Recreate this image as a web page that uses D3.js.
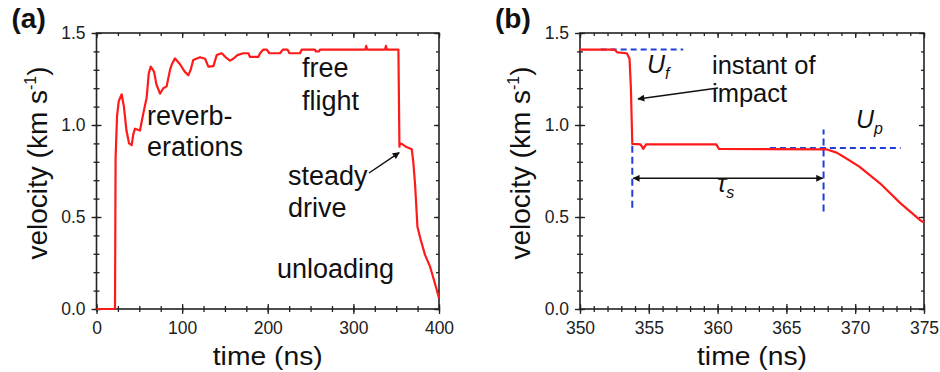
<!DOCTYPE html>
<html>
<head>
<meta charset="utf-8">
<script src="https://cdn.jsdelivr.net/npm/d3@7"></script>
<style>
  html, body { margin: 0; padding: 0; background: #fff; }
  svg { display: block; font-family: "Liberation Sans", Arial, sans-serif; }
</style>
</head>
<body>
<svg id="chart" width="940" height="372"></svg>
<script>
// ---------- data ----------
const timeA = [0, 21.6, 22.3, 24, 26, 29.4, 32, 35, 38, 41.1,
  43, 45, 50.8, 52, 55, 58.6, 61, 63.3, 67.2, 70,
  74.2, 78, 81.9, 85.9, 88, 91.7, 97.5, 103, 107.2, 110,
  113, 120.9, 126.8, 130.6, 136.5, 140.4, 146.2, 152.1, 155.9, 159.8,
  164.5, 171.5, 177.3, 179.3, 189, 191, 194.9, 198.8, 201.9, 214.4,
  217.5, 223, 225.3, 237.7, 239.7, 255, 256, 260, 261, 314,
  315, 316, 337, 338, 339, 352.6, 353.8, 354.5, 356.5, 360.4,
  362, 368.2, 370, 372.1, 374.8, 378.7, 383.8, 389.6, 393.5, 397.4, 400];
const velocityA = [0, 0, 0.82, 1.05, 1.13, 1.167, 1.1, 0.97, 0.9, 0.891,
  0.95, 0.98, 0.97, 1.0, 1.07, 1.15, 1.28, 1.317, 1.29, 1.22,
  1.17, 1.2, 1.21, 1.3, 1.33, 1.362, 1.33, 1.29, 1.27, 1.3,
  1.353, 1.368, 1.36, 1.317, 1.32, 1.38, 1.39, 1.363, 1.35, 1.36,
  1.38, 1.39, 1.39, 1.37, 1.37, 1.39, 1.41, 1.41, 1.39, 1.39,
  1.41, 1.41, 1.39, 1.39, 1.41, 1.41, 1.40, 1.40, 1.41, 1.41,
  1.43, 1.41, 1.41, 1.43, 1.41, 1.41, 0.882, 0.9, 0.897, 0.885,
  0.88, 0.868, 0.8, 0.674, 0.447, 0.375, 0.293, 0.23, 0.167, 0.103, 0.058];

const timeB = [350, 352.5, 352.7, 353.4, 353.6, 353.7, 353.8, 354.4, 354.6, 354.8,
  359.9, 360.1, 367.9, 368.65, 369.1, 370.3, 371.8, 373.3, 374.7, 375];
const velocityB = [1.41, 1.41, 1.395, 1.39, 1.36, 1.2, 0.897, 0.895, 0.87, 0.895,
  0.895, 0.87, 0.868, 0.85, 0.83, 0.774, 0.683, 0.574, 0.484, 0.47];

// guide lines in panel b (data coordinates)
const ufLine = { t: [351.5, 357.5], v: 1.41 };
const upLine = { t: [363.8, 373.3], v: 0.875 };
const impactLine = { t: 353.8, v: [0.55, 0.89] };
const endLine = { t: 367.7, v: [0.53, 0.975] };
const tauArrow = { t: [353.8, 367.7], v: 0.71 };

const xTicksA = [0, 100, 200, 300, 400];
const xMinorA = d3.range(0, 401, 25);
const xTicksB = [350, 355, 360, 365, 370, 375];
const xMinorB = d3.range(350, 375.5, 1);
const yTicks = [0, 0.5, 1.0, 1.5];
const yMinor = d3.range(0, 1.51, 0.1);

// ---------- layout ----------
const svg = d3.select("#chart");
svg.append("rect").attr("width", 940).attr("height", 372).attr("fill", "#fff");

const defs = svg.append("defs");
defs.append("marker").attr("id", "arrowEnd")
  .attr("viewBox", "0 0 10 10").attr("refX", 9).attr("refY", 5)
  .attr("markerWidth", 9).attr("markerHeight", 7).attr("orient", "auto-start-reverse")
  .attr("markerUnits", "userSpaceOnUse")
  .append("path").attr("d", "M0,0 L10,5 L0,10 Z").attr("fill", "#111");

const plotTop = 33, plotBottom = 309;
const y = d3.scaleLinear().domain([0, 1.5]).range([plotBottom, plotTop]);

function panel(x0, x1, xdom, xMajor, xMinor, letter) {
  const x = d3.scaleLinear().domain(xdom).range([x0, x1]);
  const g = svg.append("g");
  const fmtY = d3.format(".1f");
  // minor ticks (crossing)
  g.append("g").attr("transform", `translate(0,${plotBottom})`)
    .call(d3.axisBottom(x).tickValues(xMinor).tickSize(3).tickFormat(""));
  g.append("g").attr("transform", `translate(0,${plotBottom})`)
    .call(d3.axisBottom(x).tickValues(xMinor).tickSize(-3).tickFormat(""));
  g.append("g").attr("transform", `translate(0,${plotTop})`)
    .call(d3.axisTop(x).tickValues(xMinor).tickSize(-3).tickFormat(""));
  g.append("g").attr("transform", `translate(${x0},0)`)
    .call(d3.axisLeft(y).tickValues(yMinor).tickSize(3).tickFormat(""));
  g.append("g").attr("transform", `translate(${x0},0)`)
    .call(d3.axisLeft(y).tickValues(yMinor).tickSize(-3).tickFormat(""));
  g.append("g").attr("transform", `translate(${x1},0)`)
    .call(d3.axisRight(y).tickValues(yMinor).tickSize(-3).tickFormat(""));
  // major ticks with labels
  g.append("g").attr("class", "xa").attr("transform", `translate(0,${plotBottom})`)
    .call(d3.axisBottom(x).tickValues(xMajor).tickSize(5).tickPadding(8).tickFormat(d3.format("d")));
  g.append("g").attr("transform", `translate(0,${plotBottom})`)
    .call(d3.axisBottom(x).tickValues(xMajor).tickSize(-5).tickFormat(""));
  g.append("g").attr("transform", `translate(0,${plotTop})`)
    .call(d3.axisTop(x).tickValues(xMajor).tickSize(-5).tickFormat(""));
  g.append("g").attr("class", "ya").attr("transform", `translate(${x0},0)`)
    .call(d3.axisLeft(y).tickValues(yTicks).tickSize(5).tickPadding(6).tickFormat(fmtY));
  g.append("g").attr("transform", `translate(${x0},0)`)
    .call(d3.axisLeft(y).tickValues(yTicks).tickSize(-5).tickFormat(""));
  g.append("g").attr("transform", `translate(${x1},0)`)
    .call(d3.axisRight(y).tickValues(yTicks).tickSize(-5).tickFormat(""));
  g.selectAll(".domain").remove();
  g.selectAll(".tick line").attr("stroke", "#222").attr("stroke-width", 1.3);
  g.selectAll(".tick text").attr("font-size", 17.5).attr("fill", "#222")
    .attr("font-family", "'Liberation Sans', Arial, sans-serif");
  // frame
  g.append("rect").attr("x", x0).attr("y", plotTop).attr("width", x1 - x0).attr("height", plotBottom - plotTop)
    .attr("fill", "none").attr("stroke", "#222").attr("stroke-width", 1.6);
  // titles
  g.append("text").attr("x", (x0 + x1) / 2).attr("y", 365).attr("text-anchor", "middle")
    .attr("font-size", 25).attr("fill", "#111")
    .attr("textLength", 110).attr("lengthAdjust", "spacingAndGlyphs")
    .text("time (ns)");
  const yl = g.append("text")
    .attr("transform", `translate(${x0 - 50},${163}) rotate(-90)`)
    .attr("text-anchor", "middle").attr("font-size", 28).attr("fill", "#111");
  yl.append("tspan").text("velocity (km s");
  yl.append("tspan").attr("font-size", 16).attr("dy", -11).text("-1");
  yl.append("tspan").attr("dy", 11).text(")");
  g.append("text").attr("x", x0 - 85).attr("y", 28).attr("font-size", 28)
    .attr("font-weight", "bold").attr("fill", "#111").text(letter);
  return { x, g };
}

const A = panel(96.5, 439, [0, 400], xTicksA, xMinorA, "(a)");
const B = panel(580, 924, [350, 375], xTicksB, xMinorB, "(b)");

// ---------- panel a ----------
const lineA = d3.line().x((d, i) => A.x(timeA[i])).y((d, i) => y(velocityA[i]));
A.g.append("path").attr("d", lineA(timeA)).attr("fill", "none")
  .attr("stroke", "#ff1a1a").attr("stroke-width", 2.2).attr("stroke-linejoin", "round");

function multiline(g, lines, x, y0, dy, fs) {
  const t = g.append("text").attr("x", x).attr("y", y0).attr("font-size", fs || 27).attr("fill", "#111");
  lines.forEach((s, i) => t.append("tspan").attr("x", x).attr("dy", i === 0 ? 0 : dy).text(s));
  return t;
}
multiline(A.g, ["reverb-", "erations"], 147, 125, 31);
multiline(A.g, ["free", "flight"], 302, 77, 33);
multiline(A.g, ["steady", "drive"], 288, 185, 32);
multiline(A.g, ["unloading"], 277, 278, 0);
A.g.append("line").attr("x1", 369).attr("y1", 173).attr("x2", A.x(353.5)).attr("y2", y(0.85))
  .attr("stroke", "#111").attr("stroke-width", 1.5).attr("marker-end", "url(#arrowEnd)");

// ---------- panel b ----------
const blue = "#1f3fd6";
B.g.append("line").attr("x1", B.x(ufLine.t[0])).attr("x2", B.x(ufLine.t[1]))
  .attr("y1", y(ufLine.v)).attr("y2", y(ufLine.v))
  .attr("stroke", blue).attr("stroke-width", 2).attr("stroke-dasharray", "6,4");
B.g.append("line").attr("x1", B.x(upLine.t[0])).attr("x2", B.x(upLine.t[1]))
  .attr("y1", y(upLine.v)).attr("y2", y(upLine.v))
  .attr("stroke", blue).attr("stroke-width", 2).attr("stroke-dasharray", "6,4");
[impactLine, endLine].forEach(l => {
  B.g.append("line").attr("x1", B.x(l.t)).attr("x2", B.x(l.t))
    .attr("y1", y(l.v[0])).attr("y2", y(l.v[1]))
    .attr("stroke", blue).attr("stroke-width", 2).attr("stroke-dasharray", "7,4");
});

const lineB = d3.line().x((d, i) => B.x(timeB[i])).y((d, i) => y(velocityB[i]));
B.g.append("path").attr("d", lineB(timeB)).attr("fill", "none")
  .attr("stroke", "#ff1a1a").attr("stroke-width", 2.2).attr("stroke-linejoin", "round");

B.g.append("line").attr("x1", B.x(tauArrow.t[0]) + 1).attr("x2", B.x(tauArrow.t[1]) - 1)
  .attr("y1", y(tauArrow.v)).attr("y2", y(tauArrow.v))
  .attr("stroke", "#111").attr("stroke-width", 1.5)
  .attr("marker-start", "url(#arrowEnd)").attr("marker-end", "url(#arrowEnd)");
B.g.append("line").attr("x1", 718).attr("y1", 88).attr("x2", 638).attr("y2", 99)
  .attr("stroke", "#111").attr("stroke-width", 1.5).attr("marker-end", "url(#arrowEnd)");

multiline(B.g, ["instant of", "impact"], 712, 74, 28, 25.5);

function sym(main, sub, x, yy) {
  const t = B.g.append("text").attr("x", x).attr("y", yy).attr("font-size", 25)
    .attr("font-style", "italic").attr("fill", "#111");
  t.append("tspan").text(main);
  t.append("tspan").attr("font-size", 16).attr("dy", 6).text(sub);
}
sym("U", "f", 647, 73);
sym("U", "p", 856, 128);
sym("τ", "s", 717, 192);
</script>
</body>
</html>
